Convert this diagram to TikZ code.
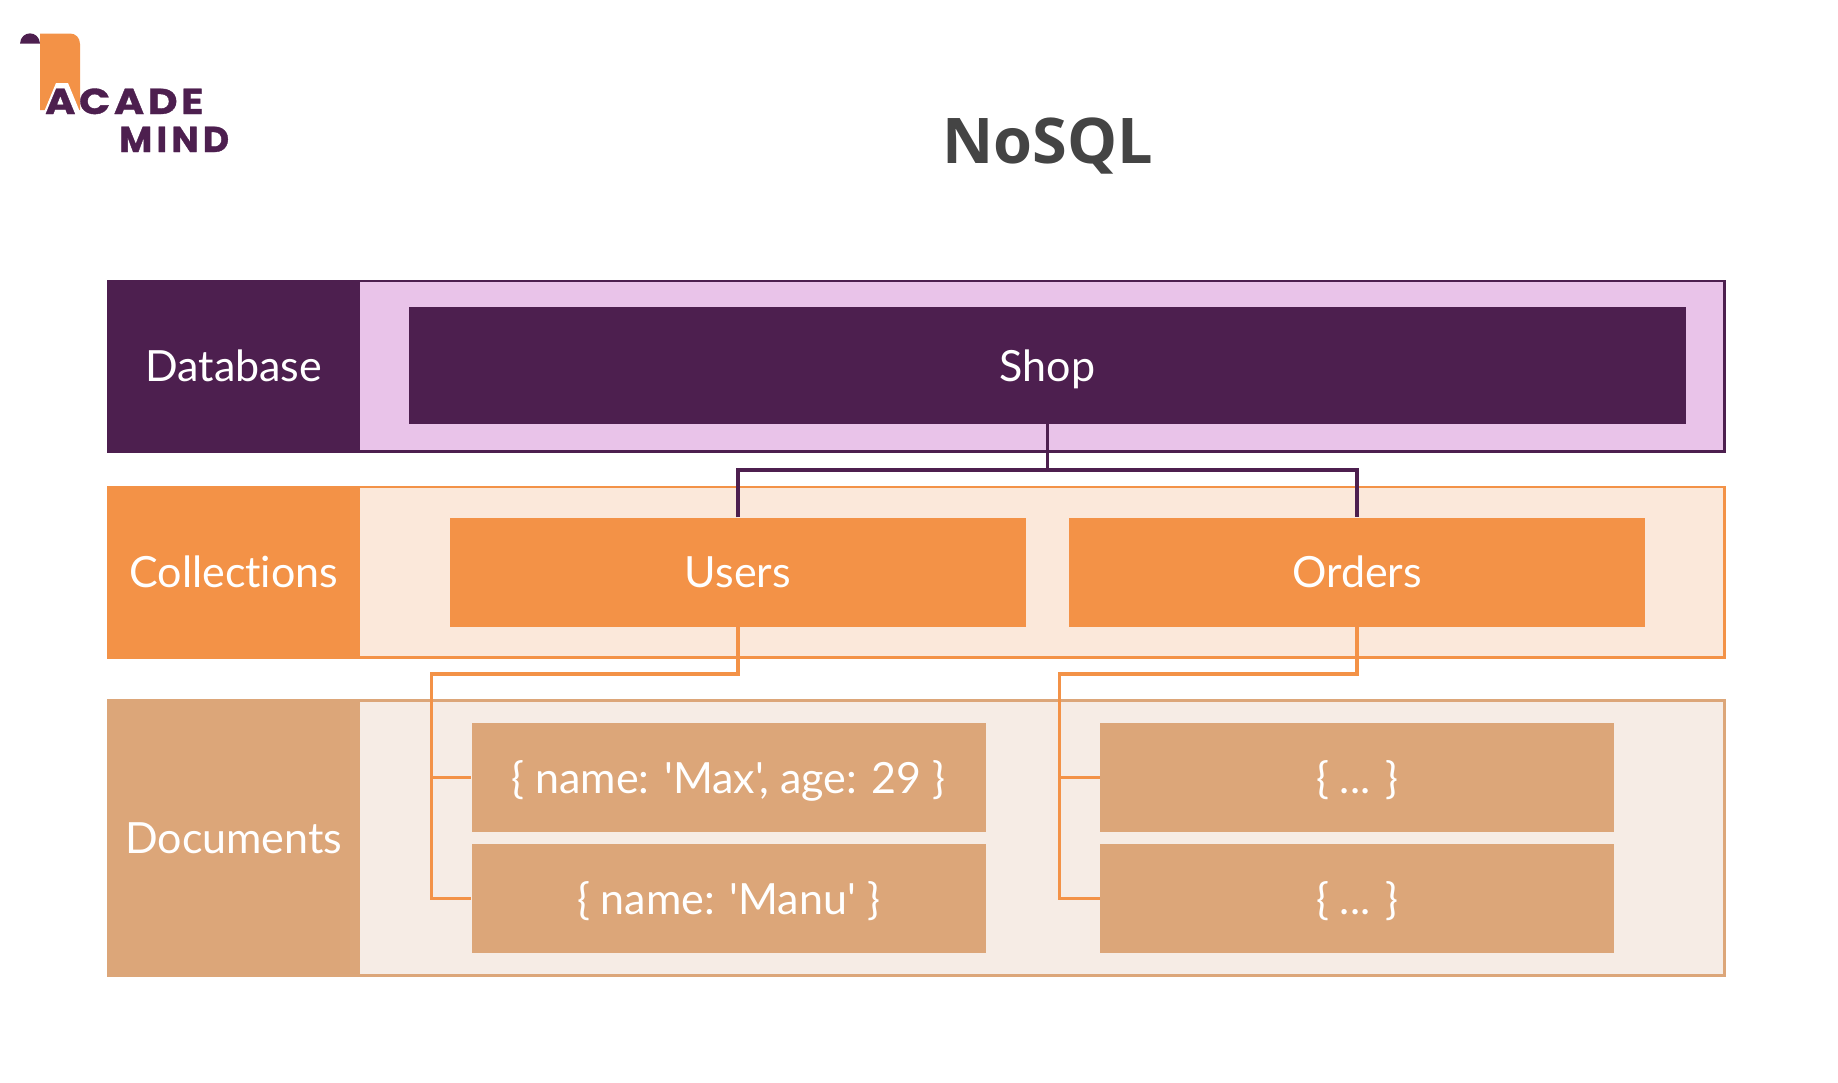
\documentclass[tikz,border=0pt]{standalone}
\usepackage{fontspec}
\newfontfamily\labelfont{Lato}[Ligatures=NoCommon]
\newfontfamily\titlefont{Open Sans}
\newfontfamily\logofont{Poppins}[LetterSpace=12,BoldFeatures={FakeBold=1}]
\newfontfamily\logowide{Poppins}[LetterSpace=10,FakeStretch=1.14,BoldFeatures={FakeBold=1}]
\definecolor{dbdark}{HTML}{4D1F4F}
\definecolor{dblight}{HTML}{E9C3E9}
\definecolor{colldark}{HTML}{F39247}
\definecolor{colllight}{HTML}{FBE8DA}
\definecolor{docdark}{HTML}{DCA679}
\definecolor{doclight}{HTML}{F6ECE5}
\definecolor{titlegray}{HTML}{444444}
\tikzset{
    label/.style={inner sep=0pt,text=white,text height=31pt,text depth=0pt,font=\labelfont\fontsize{43}{48}\selectfont},
    bandbody/.style={inner sep=0pt,minimum width=1616.5pt,line width=2.5pt},
    bandhead/.style={label,minimum width=252.5pt},
    entry/.style={label},
    wire/.style={line width=3.3pt},
}
\begin{document}
\begin{tikzpicture}[x=1pt,y=-1pt]
    \useasboundingbox (0,0) rectangle (1838,1082);
    % logo
    \fill[colldark] (40,110) -- (40,33.5) -- (70,33.5)
        .. controls (76,33.5) and (80,38) .. (80,44) -- (80,110) -- cycle;
    \fill[white] (44,112) -- (56,83) -- (68,83) -- (80,112) -- cycle;
    \fill[dbdark] (20,43.5) .. controls (21,30) and (39,30) .. (40,43.5) -- cycle;
    \node[inner sep=0pt,anchor=base west,text=dbdark] (logoa) at (45,114)
        {\logowide\bfseries\fontsize{36}{40}\selectfont ACADE};
    \node[inner sep=0pt,anchor=base west,text=dbdark] (logob) at (119,152)
        {\logofont\bfseries\fontsize{36}{40}\selectfont MIND};
    % title
    \node[inner sep=0pt,text=titlegray] (title) at (1048,146)
        {\titlefont\bfseries\fontsize{63}{70}\selectfont NoSQL};
    % bands
    \node[bandbody,draw=dbdark,fill=dblight,minimum height=170.5pt] (dbband) at (916,366) {};
    \node[bandhead,fill=dbdark,minimum height=173pt] (dbhead) at (233.75,366) {Database};
    \node[bandbody,draw=colldark,fill=colllight,minimum height=170.5pt] (collband) at (916,572) {};
    \node[bandhead,fill=colldark,minimum height=173pt] (collhead) at (233.75,572) {Collections};
    \node[bandbody,draw=docdark,fill=doclight,minimum height=275pt] (docband) at (916,838) {};
    \node[bandhead,fill=docdark,minimum height=277pt] (dochead) at (233.75,838) {Documents};
    % boxes
    \node[entry,fill=dbdark,minimum width=1277pt,minimum height=117pt] (shop) at (1047.5,365.5) {Shop};
    \node[entry,fill=colldark,minimum width=576pt,minimum height=109pt] (users) at (738,572) {Users};
    \node[entry,fill=colldark,minimum width=576pt,minimum height=109pt] (orders) at (1357,572) {Orders};
    \node[entry,fill=docdark,minimum width=514pt,minimum height=109pt] (docmax) at (728.5,777.5) {\{ name: 'Max', age: 29 \}};
    \node[entry,fill=docdark,minimum width=514pt,minimum height=109pt] (docmanu) at (728.5,898.5) {\{ name: 'Manu' \}};
    \node[entry,fill=docdark,minimum width=514pt,minimum height=109pt] (docone) at (1357,777.5) {\{ ... \}};
    \node[entry,fill=docdark,minimum width=514pt,minimum height=109pt] (doctwo) at (1357,898.5) {\{ ... \}};
    % connectors
    \coordinate (shopbus) at (1047.5,470);
    \coordinate (usersbus) at (431.5,674);
    \coordinate (ordersbus) at (1059.5,674);
    \draw[wire,dbdark] (shop.south) -- (shopbus);
    \draw[wire,dbdark] (users.north) |- (shopbus) -| (orders.north);
    \draw[wire,colldark] (users.south) |- (usersbus) |- (docmanu.west);
    \draw[wire,colldark] (usersbus |- docmax.west) -- (docmax.west);
    \draw[wire,colldark] (orders.south) |- (ordersbus) |- (doctwo.west);
    \draw[wire,colldark] (ordersbus |- docone.west) -- (docone.west);
\end{tikzpicture}
\end{document}
